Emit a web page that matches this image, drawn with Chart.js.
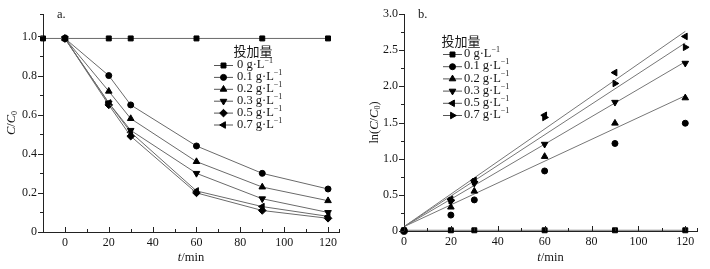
<!DOCTYPE html>
<html>
<head>
    <meta charset="utf-8"/>
    <title>投加量对 C/C0 与 ln(C/C0) 的影响</title>
    <script src="https://cdn.jsdelivr.net/npm/chart.js"></script>
    <style>
        body {
            margin: 0;
            background-color: #ffffff;
        }

        .wrap {
            position: relative;
            width: 710px;
            height: 269px;
        }

        .box {
            position: absolute;
            top: 0;
            width: 355px;
            height: 269px;
        }
    </style>
</head>
<body>
    <div class="wrap">
        <div class="box" style="left:0"><canvas id="chartA" width="355" height="269"></canvas></div>
        <div class="box" style="left:355px"><canvas id="chartB" width="355" height="269"></canvas></div>
    </div>

    <script>
        // Data
        const doses = ['0', '0.1', '0.2', '0.3', '0.5', '0.7'];
        const times = [0, 20, 30, 60, 90, 120];
        const timesBlank = [-10, 0, 20, 30, 60, 90, 120];

        // a. C/C0
        const ratio0 = [0.99, 0.99, 0.99, 0.99, 0.99, 0.99, 0.99];
        const ratio01 = [0.99, 0.80, 0.65, 0.44, 0.30, 0.22];
        const ratio02 = [0.99, 0.72, 0.58, 0.36, 0.23, 0.16];
        const ratio03 = [0.99, 0.66, 0.52, 0.30, 0.17, 0.10];
        const ratio05 = [0.99, 0.65, 0.49, 0.20, 0.11, 0.07];
        const ratio07 = [0.99, 0.66, 0.51, 0.21, 0.13, 0.08];

        // b. ln(C/C0)
        const ln0 = [0.01, 0.01, 0.01, 0.01, 0.01, 0.01];
        const ln01 = [0.00, 0.22, 0.43, 0.83, 1.21, 1.49];
        const ln02 = [0.00, 0.33, 0.55, 1.03, 1.49, 1.84];
        const ln03 = [0.00, 0.41, 0.66, 1.20, 1.78, 2.32];
        const ln05 = [0.00, 0.44, 0.70, 1.60, 2.19, 2.69];
        const ln07 = [0.00, 0.42, 0.68, 1.57, 2.04, 2.54];

        // fitted lines, value at t = 0 and t = 120
        const fitT = [0, 120];
        const fit0 = [0.01, 0.01];
        const fit02 = [0.06, 1.87];
        const fit03 = [0.06, 2.34];
        const fit05 = [0.06, 2.76];
        const fit07 = [0.06, 2.60];

        // tick values
        const xLabels = [0, 20, 40, 60, 80, 100, 120];
        const xMinorA = [-10, 10, 30, 50, 70, 90, 110, 125];
        const xMinorB = [10, 30, 50, 70, 90, 110, 125];
        const yLabelsA = [0, 0.2, 0.4, 0.6, 0.8, 1.0];
        const yMinorA = [0.1, 0.3, 0.5, 0.7, 0.9, 1.115];
        const yLabelsB = [0, 0.5, 1.0, 1.5, 2.0, 2.5, 3.0];
        const yMinorB = [0.25, 0.75, 1.25, 1.75, 2.25, 2.75];

        const SERIF = '"Liberation Serif", "DejaVu Serif", serif';
        const INK = '#151515';

        const pts = (xs, ys) => xs.map((x, i) => ({ x: x, y: ys[i] }));

        function marker(style, rot, r) {
            return {
                pointStyle: style,
                rotation: rot,
                pointRadius: r,
                pointBackgroundColor: '#000',
                pointBorderColor: '#000',
                pointBorderWidth: 1
            };
        }

        // rich text: segments with italic / subscript / superscript
        function fontFor(s) {
            const size = (s.sub || s.sup) ? 8 : (s.size || 12.5);
            return (s.it ? 'italic ' : '') + size + 'px ' + (s.family || SERIF);
        }

        function drawRich(ctx, segs, x, y, angle, center) {
            ctx.save();
            ctx.translate(x, y);
            ctx.rotate(angle || 0);
            let w = 0;
            segs.forEach(s => { ctx.font = fontFor(s); w += ctx.measureText(s.t).width; });
            let cx = center ? -w / 2 : 0;
            ctx.textBaseline = 'middle';
            ctx.textAlign = 'left';
            ctx.fillStyle = INK;
            segs.forEach(s => {
                ctx.font = fontFor(s);
                ctx.fillText(s.t, cx, s.sub ? 3 : (s.sup ? -4 : 0));
                cx += ctx.measureText(s.t).width;
            });
            ctx.restore();
        }

        // ticks, axis titles, panel letter and legend
        const decor = {
            id: 'decor',
            afterDraw(chart, args, o) {
                const ctx = chart.ctx;
                const area = chart.chartArea;
                const xs = chart.scales.x;
                const ys = chart.scales.y;
                ctx.save();
                ctx.strokeStyle = '#222';
                ctx.lineWidth = 1;
                ctx.beginPath();
                xs.ticks.forEach(t => {
                    const px = Math.round(xs.getPixelForValue(t.value)) + 0.5;
                    const len = o.xMajor.includes(t.value) ? 5 : 3;
                    ctx.moveTo(px, area.bottom);
                    ctx.lineTo(px, area.bottom - len);
                });
                ys.ticks.forEach(t => {
                    const py = Math.round(ys.getPixelForValue(t.value)) + 0.5;
                    const len = o.yMajor.includes(t.value) ? 5 : 3;
                    ctx.moveTo(area.left - len, py);
                    ctx.lineTo(area.left, py);
                });
                ctx.stroke();
                ctx.restore();

                drawRich(ctx, [{ t: 't', it: true }, { t: '/min' }],
                    (area.left + area.right) / 2, 258, 0, true);
                drawRich(ctx, o.yTitle, o.yTitleX, (area.top + area.bottom) / 2, -Math.PI / 2, true);
                drawRich(ctx, [{ t: o.panel }], o.panelX, 15, 0, false);

                // legend
                const L = o.legend;
                drawRich(ctx, [{ t: '投加量', family: '"Noto Sans CJK SC", sans-serif', size: 13 }],
                    L.titleX, L.titleY, 0, true);
                chart.data.datasets.filter(d => d.inLegend).forEach((d, i) => {
                    const ry = L.rowY + i * L.rowGap;
                    ctx.save();
                    ctx.strokeStyle = '#555';
                    ctx.lineWidth = 1;
                    ctx.beginPath();
                    ctx.moveTo(L.lineX0, ry + 0.5);
                    ctx.lineTo(L.lineX1, ry + 0.5);
                    ctx.stroke();
                    ctx.fillStyle = '#000';
                    ctx.strokeStyle = '#000';
                    Chart.helpers.drawPoint(ctx, {
                        pointStyle: d.pointStyle,
                        rotation: d.rotation,
                        radius: d.pointRadius,
                        borderWidth: 1
                    }, (L.lineX0 + L.lineX1) / 2, ry + 0.5);
                    ctx.restore();
                    drawRich(ctx, [{ t: d.label + ' g·L' }, { t: '−1', sup: true }], L.textX, ry, 0, false);
                });
            }
        };

        function scales(o) {
            return {
                x: {
                    type: 'linear',
                    min: o.xMin,
                    max: 125,
                    afterBuildTicks: s => { s.ticks = o.xTicks.map(v => ({ value: v })); },
                    afterFit: s => { s.height = o.xHeight; },
                    ticks: {
                        autoSkip: false,
                        maxRotation: 0,
                        padding: 4,
                        color: INK,
                        font: { family: SERIF, size: 12 },
                        callback: v => xLabels.includes(v) ? String(v) : ''
                    },
                    grid: { display: true, drawOnChartArea: false, drawTicks: false },
                    border: { color: '#222', width: 1 }
                },
                y: {
                    type: 'linear',
                    min: 0,
                    max: o.yMax,
                    afterBuildTicks: s => { s.ticks = o.yTicks.map(v => ({ value: v })); },
                    afterFit: s => { s.width = o.yWidth; },
                    ticks: {
                        autoSkip: false,
                        padding: 6,
                        color: INK,
                        font: { family: SERIF, size: 12 },
                        callback: v => o.yLabels.includes(v) ? (v === 0 ? '0' : v.toFixed(1)) : ''
                    },
                    grid: { display: true, drawOnChartArea: false, drawTicks: false },
                    border: { color: '#222', width: 1 }
                }
            };
        }

        const lineA = { showLine: true, borderColor: '#6a6a6a', borderWidth: 1, clip: false, inLegend: true };

        new Chart(document.getElementById('chartA'), {
            type: 'scatter',
            data: {
                datasets: [
                    { label: doses[0], data: pts(timesBlank, ratio0), ...lineA, ...marker('rect', 0, 3.5) },
                    { label: doses[1], data: pts(times, ratio01), ...lineA, ...marker('circle', 0, 3) },
                    { label: doses[2], data: pts(times, ratio02), ...lineA, ...marker('triangle', 0, 3.8) },
                    { label: doses[3], data: pts(times, ratio03), ...lineA, ...marker('triangle', 180, 3.8) },
                    { label: doses[4], data: pts(times, ratio05), ...lineA, ...marker('rectRot', 0, 3.8) },
                    { label: doses[5], data: pts(times, ratio07), ...lineA, ...marker('triangle', 270, 3.8) }
                ]
            },
            options: {
                responsive: false,
                animation: false,
                layout: { padding: { top: 14, right: 16, left: 0, bottom: 0 } },
                scales: scales({
                    xMin: -10, xTicks: xLabels.concat(xMinorA), xHeight: 37,
                    yMax: 1.115, yTicks: yLabelsA.concat(yMinorA), yLabels: yLabelsA, yWidth: 43
                }),
                plugins: {
                    legend: { display: false },
                    tooltip: { enabled: false },
                    decor: {
                        xMajor: xLabels, yMajor: yLabelsA,
                        yTitle: [{ t: 'C', it: true }, { t: '/' }, { t: 'C', it: true }, { t: '0', sub: true }],
                        yTitleX: 12,
                        panel: 'a.', panelX: 57,
                        legend: { titleX: 253, titleY: 51, rowY: 65, rowGap: 11.9, lineX0: 214, lineX1: 233, textX: 237 }
                    }
                }
            },
            plugins: [decor]
        });

        const dotB = { showLine: false, clip: false, inLegend: true };
        const fitB = { showLine: true, borderColor: '#777', borderWidth: 1, pointRadius: 0, clip: false };

        new Chart(document.getElementById('chartB'), {
            type: 'scatter',
            data: {
                datasets: [
                    { label: doses[0], data: pts(times, ln0), ...dotB, ...marker('rect', 0, 3.5) },
                    { label: doses[1], data: pts(times, ln01), ...dotB, ...marker('circle', 0, 3) },
                    { label: doses[2], data: pts(times, ln02), ...dotB, ...marker('triangle', 0, 3.8) },
                    { label: doses[3], data: pts(times, ln03), ...dotB, ...marker('triangle', 180, 3.8) },
                    { label: doses[4], data: pts(times, ln05), ...dotB, ...marker('triangle', 270, 3.8) },
                    { label: doses[5], data: pts(times, ln07), ...dotB, ...marker('triangle', 90, 3.8) },
                    { label: 'fit 0', data: pts(fitT, fit0), ...fitB },
                    { label: 'fit 0.2', data: pts(fitT, fit02), ...fitB },
                    { label: 'fit 0.3', data: pts(fitT, fit03), ...fitB },
                    { label: 'fit 0.5', data: pts(fitT, fit05), ...fitB },
                    { label: 'fit 0.7', data: pts(fitT, fit07), ...fitB }
                ]
            },
            options: {
                responsive: false,
                animation: false,
                layout: { padding: { top: 14, right: 13, left: 0, bottom: 0 } },
                scales: scales({
                    xMin: 0, xTicks: xLabels.concat(xMinorB), xHeight: 38,
                    yMax: 3.0, yTicks: yLabelsB.concat(yMinorB), yLabels: yLabelsB, yWidth: 49
                }),
                plugins: {
                    legend: { display: false },
                    tooltip: { enabled: false },
                    decor: {
                        xMajor: xLabels, yMajor: yLabelsB,
                        yTitle: [{ t: 'ln(' }, { t: 'C', it: true }, { t: '/' }, { t: 'C', it: true }, { t: '0', sub: true }, { t: ')' }],
                        yTitleX: 20,
                        panel: 'b.', panelX: 63,
                        legend: { titleX: 106, titleY: 41, rowY: 54, rowGap: 12.2, lineX0: 88, lineX1: 107, textX: 109 }
                    }
                }
            },
            plugins: [decor]
        });
    </script>
</body>
</html>
